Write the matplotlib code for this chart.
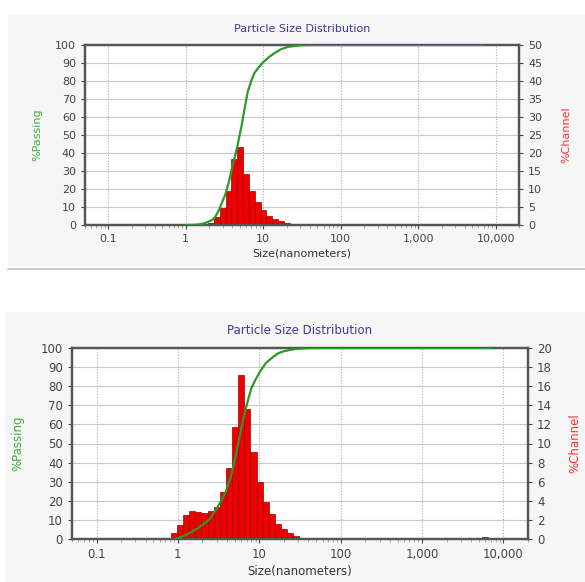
import matplotlib
matplotlib.use("Agg")
import matplotlib.pyplot as plt
from matplotlib.patches import Rectangle
from matplotlib.lines import Line2D
from matplotlib.ticker import FixedLocator, LogLocator, NullFormatter

# Channel edges (nm), shared by both measurements
edges = [0.818, 0.972, 1.156, 1.375, 1.635, 1.945, 2.312, 2.750, 3.270, 3.889,
         4.625, 5.500, 6.541, 7.778, 9.250, 11.00, 13.08, 15.56, 18.50, 22.00,
         26.16, 31.11, 37.00, 44.00]

# Top sample: %Channel per bar and %Passing curve
top_channel = [0, 0, 0, 0, 0.2, 0.6, 2.3, 4.6, 9.4, 18.2, 21.6, 14.2, 9.4, 6.5,
               4.2, 2.5, 1.6, 1.0, 0.6, 0.35, 0.2, 0.1, 0.05]
top_size = [1.0, 1.3, 1.6, 1.8, 2.2, 2.4, 2.66, 2.9, 3.24, 3.6, 3.96, 4.3, 4.6,
            4.9, 5.3, 5.7, 6.3, 7.0, 7.7, 8.7, 10, 12, 14, 17, 21, 25, 30, 40,
            50, 7000]
top_passing = [0, 0.1, 0.5, 1.2, 2.8, 4.5, 8, 12, 17, 24, 32, 38, 43, 49, 56,
               64, 74, 80, 84.5, 87.5, 90.5, 93.5, 95.5, 97.7, 99, 99.4, 99.8,
               100, 100, 100]

# Bottom sample
bot_channel = [0.6, 1.5, 2.5, 2.9, 2.8, 2.7, 2.9, 3.4, 4.9, 7.4, 11.7, 17.2, 13.6,
               9.1, 6.0, 3.9, 2.6, 1.6, 1.0, 0.6, 0.35, 0.15, 0.05]
bot_far_edges = [5500, 6541]
bot_far_channel = [0.25]
bot_size = [0.95, 1.0, 1.15, 1.3, 1.55, 1.8, 2.1, 2.4, 2.9, 3.4, 3.9, 4.5, 5.1,
            5.8, 6.3, 6.8, 7.4, 8.0, 9.0, 10, 11, 12, 13.5, 15, 17, 20, 25, 30,
            40, 50, 7000]
bot_passing = [0, 0.5, 1.4, 2.5, 4.2, 6, 8, 10, 15, 20, 25, 33, 43, 55, 62, 68,
               74, 79, 83.5, 87, 89.7, 92, 94, 95.5, 97.2, 98.3, 99.2, 99.6,
               99.9, 100, 100]

xticks = [0.1, 1, 10, 100, 1000, 10000]
xticklabels = ["0.1", "1", "10", "100", "1,000", "10,000"]

W, H = 585, 582
fig = plt.figure(figsize=(W / 100, H / 100), dpi=100)
fig.patch.set_facecolor("white")

# light grey panels behind each chart
fig.patches.append(Rectangle((8 / W, 1 - 266 / H), 577 / W, 251 / H,
                             transform=fig.transFigure, facecolor="#f6f6f6",
                             edgecolor="none", zorder=-5))
fig.lines.append(Line2D([8 / W, 1], [1 - 269 / H, 1 - 269 / H],
                        transform=fig.transFigure, color="#c4c4c4", lw=1.2,
                        zorder=-5))
fig.patches.append(Rectangle((5 / W, 0), 580 / W, 270 / H,
                             transform=fig.transFigure, facecolor="#f6f6f6",
                             edgecolor="none", zorder=-5))

tick_col = "#444444"
spine_col = "#555555"


def draw(rect, channel, size, passing, ymax2, step2, far=None, fs=8,
         tpad=8, lpad=6, rpad=12):
    ax = fig.add_axes(rect)
    ax.set_facecolor("white")
    ax.set_xscale("log")
    ax.set_xlim(0.05, 20000)
    ax.set_ylim(0, 100)
    ax.set_yticks(range(0, 101, 10))
    ax.grid(axis="y", color="#c8c8c8", lw=0.8, ls="-")
    ax.xaxis.set_major_locator(FixedLocator(xticks))
    ax.set_xticklabels(xticklabels)
    ax.xaxis.set_minor_locator(LogLocator(base=10, subs=range(2, 10)))
    ax.xaxis.set_minor_formatter(NullFormatter())
    ax.grid(axis="x", which="major", color="#b0b0b0", lw=0.8, ls=(0, (1, 1.5)))
    ax.tick_params(colors=tick_col, labelsize=fs, length=3)
    ax.tick_params(axis="x", which="minor", length=2, color="#999999")
    for s in ax.spines.values():
        s.set_color(spine_col)
        s.set_linewidth(1.6)

    ax2 = ax.twinx()
    ax2.set_ylim(0, ymax2)
    ax2.set_yticks(range(0, ymax2 + 1, step2))
    ax2.tick_params(colors=tick_col, labelsize=fs, length=3)
    for s in ax2.spines.values():
        s.set_color(spine_col)
        s.set_linewidth(1.6)

    widths = [edges[i + 1] - edges[i] for i in range(len(channel))]
    ax2.bar(edges[:-1], channel, width=widths, align="edge",
            color="#ee0000", edgecolor="#990000", lw=0.5, zorder=2)
    if far is not None:
        fe, fc = far
        ax2.bar(fe[:-1], fc, width=[fe[1] - fe[0]], align="edge",
                color="#ee0000", edgecolor="#990000", lw=0.5, zorder=2)

    ax2.plot(size, [p * ymax2 / 100 for p in passing], color="#2a9a2a",
             lw=1.6, zorder=3)

    ax.set_title("Particle Size Distribution", color="#3a3a9a", fontsize=fs, pad=tpad)
    ax.set_xlabel("Size(nanometers)", color="#333333", fontsize=fs, labelpad=3)
    ax.set_ylabel("%Passing", color="#3cae3c", fontsize=fs, labelpad=lpad)
    ax2.set_ylabel("%Channel", color="#ff3030", fontsize=fs, rotation=90,
                   labelpad=rpad)
    return ax


draw([85 / W, 1 - 225 / H, 434 / W, 180 / H], top_channel, top_size, top_passing,
     50, 5, fs=8, tpad=9, lpad=9, rpad=14)
draw([72 / W, 1 - 539 / H, 456 / W, 191 / H], bot_channel, bot_size, bot_passing,
     20, 2, far=(bot_far_edges, bot_far_channel), fs=8.5, tpad=10, lpad=12,
     rpad=12)

fig.savefig("out.png", dpi=100)
